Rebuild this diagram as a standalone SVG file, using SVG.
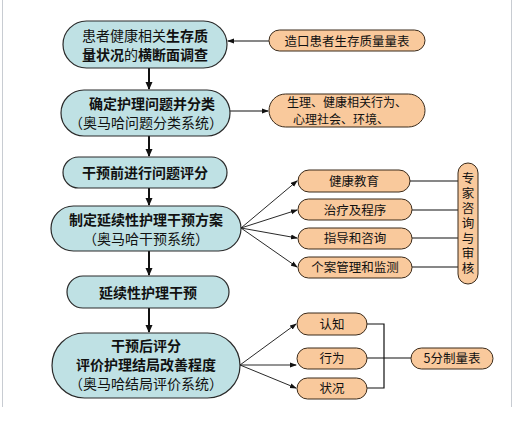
<svg xmlns="http://www.w3.org/2000/svg" width="522" height="426" viewBox="0 0 522 426">
<defs>
<style>
.t{fill:#bfe1e4;stroke:#2a2a2a;stroke-width:1.2}
.o{fill:#f9c99c;stroke:#3a2a1a;stroke-width:1}
text{font-family:"Noto Sans CJK SC","Liberation Sans",sans-serif;fill:#111;text-anchor:middle}
.m{font-size:14px}
.b{font-weight:bold}
.s{font-size:12.5px}
.v{writing-mode:vertical-rl;letter-spacing:2.5px}
.c{fill:none;stroke:#111}
.thick{stroke-width:2}
.thin{stroke-width:0.9}
</style>
<marker id="ab" markerWidth="8" markerHeight="8" refX="7" refY="4" orient="auto" markerUnits="userSpaceOnUse"><path d="M0,0.5 L8,4 L0,7.5 Z" fill="#111"/></marker>
<marker id="as" markerWidth="7" markerHeight="6" refX="6" refY="3" orient="auto" markerUnits="userSpaceOnUse"><path d="M0,0.5 L7,3 L0,5.5 Z" fill="#111"/></marker>
</defs>
<rect width="522" height="426" fill="#fff"/>
<path d="M2.5,0 V407 M511.5,0 V407" stroke="#c8ccd2" stroke-width="1"/>
<g id="connectors">
<path class="c thick" d="M149,68 V89" marker-end="url(#ab)"/>
<path class="c thick" d="M149,136 V156" marker-end="url(#ab)"/>
<path class="c thick" d="M149,188 V205" marker-end="url(#ab)"/>
<path class="c thick" d="M149,251 V275" marker-end="url(#ab)"/>
<path class="c thick" d="M149,308 V332" marker-end="url(#ab)"/>
<path class="c" stroke-width="1.2" d="M269,41 H228" marker-end="url(#as)"/>
<path class="c" stroke-width="1.2" d="M230,111 H268" marker-end="url(#as)"/>
<path class="c thin" d="M241,228 L297,181" marker-end="url(#as)"/>
<path class="c thin" d="M241,228 L297,210" marker-end="url(#as)"/>
<path class="c thin" d="M241,228 L297,238" marker-end="url(#as)"/>
<path class="c thin" d="M241,228 L297,267" marker-end="url(#as)"/>
<path class="c" stroke-width="1.2" d="M410,181 H458 M412,210 H458 M412,238 H458 M412,267 H458"/>
<path class="c thin" d="M240,365 L296,324" marker-end="url(#as)"/>
<path class="c thin" d="M240,365 H296" marker-end="url(#as)"/>
<path class="c thin" d="M240,365 L296,388" marker-end="url(#as)"/>
<path class="c" stroke-width="1.2" d="M367,324 H384 V388 H367 M367,358 H411"/>
</g>
<g id="n1">
<rect class="t" x="63" y="21" width="164" height="47" rx="23.5"/>
<text class="m" x="145" y="40.5">患者健康相关<tspan class="b">生存质</tspan></text>
<text class="m" x="145" y="59.5"><tspan class="b">量状况</tspan>的<tspan class="b">横断面调查</tspan></text>
</g>
<g id="n1r">
<rect class="o" x="269" y="30" width="156" height="21" rx="10.5"/>
<text class="s" x="347" y="45.5">造口患者生存质量量表</text>
</g>
<g id="n2">
<rect class="t" x="61" y="90" width="169" height="46" rx="23"/>
<text class="m b" x="152" y="109">确定护理问题并分类</text>
<text class="m" x="146" y="128">（奥马哈问题分类系统）</text>
</g>
<g id="n2r">
<rect class="o" x="269" y="94" width="156" height="33" rx="16.5"/>
<text x="347" y="106.5" style="font-size:12px">生理、健康相关行为、</text>
<text x="341" y="124" style="font-size:12px">心理社会、环境、</text>
</g>
<g id="n3">
<rect class="t" x="63" y="157" width="164" height="31" rx="15.5"/>
<text class="m b" x="145" y="178">干预前进行问题评分</text>
</g>
<g id="n4">
<rect class="t" x="51" y="206" width="190" height="45" rx="22.5"/>
<text class="m b" x="146" y="224.5">制定延续性护理干预方案</text>
<text class="m" x="146" y="243.5">（奥马哈干预系统）</text>
</g>
<g id="n5">
<rect class="t" x="67" y="276" width="162" height="32" rx="16"/>
<text class="m b" x="148" y="297.5">延续性护理干预</text>
</g>
<g id="n6">
<rect class="t" x="52" y="333" width="188" height="65" rx="32.5"/>
<text class="m b" x="146" y="350.5">干预后评分</text>
<text class="m b" x="146" y="369.5">评价护理结局改善程度</text>
<text class="m" x="146" y="388.5">（奥马哈结局评价系统）</text>
</g>
<g id="i1"><rect class="o" x="298" y="170" width="112" height="22" rx="11"/><text class="s" x="354" y="185.5">健康教育</text></g>
<g id="i2"><rect class="o" x="298" y="199" width="114" height="21" rx="10.5"/><text class="s" x="355" y="214.5">治疗及程序</text></g>
<g id="i3"><rect class="o" x="298" y="228" width="114" height="21" rx="10.5"/><text class="s" x="355" y="243">指导和咨询</text></g>
<g id="i4"><rect class="o" x="298" y="257" width="114" height="21" rx="10.5"/><text class="s" x="355" y="272">个案管理和监测</text></g>
<g id="exp">
<rect class="o" x="458" y="163" width="20" height="121" rx="10"/>
<text class="s v" x="468" y="224">专家咨询与审核</text>
</g>
<g id="r1"><rect class="o" x="297" y="313" width="70" height="22" rx="11"/><text class="s" x="332" y="328.5">认知</text></g>
<g id="r2"><rect class="o" x="297" y="348" width="70" height="21" rx="10.5"/><text class="s" x="332" y="363">行为</text></g>
<g id="r3"><rect class="o" x="297" y="378" width="70" height="21" rx="10.5"/><text class="s" x="332" y="393">状况</text></g>
<g id="scale"><rect class="o" x="411" y="348" width="82" height="21" rx="10.5"/><text class="s" x="452" y="363">5分制量表</text></g>
</svg>
